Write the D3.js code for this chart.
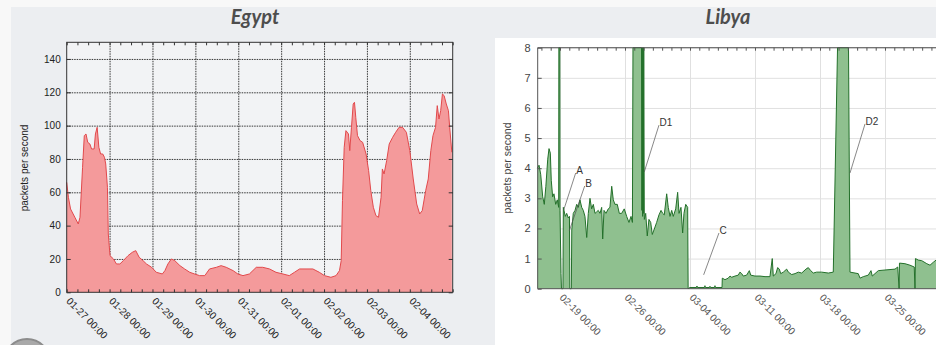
<!DOCTYPE html>
<html lang="en">
<head>
<meta charset="UTF-8">
<title>Egypt / Libya</title>
<style>
  html, body { margin: 0; padding: 0; background: #f8f8f8; }
  svg { display: block; }
</style>
</head>
<body>
<div id="chart"></div>
<script src="https://cdn.jsdelivr.net/npm/d3@7"></script>
<script>
// Egypt: days after 01-27 00:00, packets per second
const egyptDay = [0, 0.04, 0.09, 0.19, 0.27, 0.31, 0.37, 0.41, 0.45, 0.49, 0.54, 0.58, 0.64, 0.67, 0.71,
  0.75, 0.79, 0.84, 0.88, 0.91, 0.95, 0.97, 1.01, 1.09, 1.16, 1.24, 1.32, 1.43, 1.53, 1.61, 1.69, 1.78,
  1.86, 1.98, 2.09, 2.23, 2.29, 2.36, 2.44, 2.52, 2.64, 2.75, 2.87, 2.98, 3.10, 3.22, 3.33, 3.49, 3.60,
  3.72, 3.88, 3.99, 4.11, 4.26, 4.42, 4.57, 4.73, 4.88, 5.04, 5.19, 5.31, 5.43, 5.58, 5.74, 5.89, 6.01,
  6.16, 6.28, 6.36, 6.40, 6.43, 6.47, 6.51, 6.57, 6.60, 6.64, 6.68, 6.71, 6.74, 6.78, 6.84, 6.90, 6.98,
  7.04, 7.09, 7.15, 7.21, 7.27, 7.33, 7.36, 7.40, 7.46, 7.52, 7.60, 7.67, 7.75, 7.83, 7.92, 8.00, 8.08,
  8.16, 8.23, 8.29, 8.37, 8.43, 8.49, 8.54, 8.60, 8.64, 8.68, 8.72, 8.76, 8.80, 8.85, 8.90, 8.93, 8.98];
const egyptRate = [66, 57, 50, 45, 41, 45, 75, 94, 95, 90, 89, 86, 86, 95, 99,
  87, 83, 83, 81, 77, 63, 35, 22, 20, 17, 17, 19, 22, 24, 25, 21, 19,
  17, 15, 12, 11, 13, 17, 20, 19, 16, 14, 12, 11, 10, 10, 14, 15, 16,
  15, 13, 11, 10, 11, 15, 15, 14, 12, 11, 10, 12, 14, 14, 14, 12, 10,
  9, 10, 13, 19, 55, 87, 97, 95, 85, 99, 113, 114, 105, 94, 91, 90, 83,
  73, 61, 51, 46, 45, 57, 74, 71, 79, 89, 93, 96, 99, 99, 96, 85, 68,
  53, 47, 49, 61, 68, 85, 94, 99, 112, 104, 109, 119, 118, 113, 109, 99, 84];
const egyptTicks = ["01-27 00:00", "01-28 00:00", "01-29 00:00", "01-30 00:00", "01-31 00:00",
  "02-01 00:00", "02-02 00:00", "02-03 00:00", "02-04 00:00"];
const egyptYTicks = [0, 20, 40, 60, 80, 100, 120, 140];

// Libya: days after 02-19 00:00, packets per second
const libyaDay = [-2.44, -2.26, -2.08, -1.86, -1.69, -1.52, -1.32, -1.18, -1.04, -0.94, -0.79, -0.65,
  -0.46, -0.29, -0.14, -0.12, -0.02, 0.00, 0.11, 0.16, 0.32, 0.36, 0.57, 0.72, 0.89, 1.02, 1.06, 1.22,
  1.27, 1.43, 1.62, 1.80, 1.97, 2.15, 2.34, 2.51, 2.69, 2.88, 3.05, 3.23, 3.41, 3.59, 3.77, 3.95, 4.12,
  4.31, 4.49, 4.60, 4.74, 4.95, 5.20, 5.38, 5.57, 5.74, 5.92, 6.17, 6.39, 6.64, 6.92, 7.18, 7.43, 7.65,
  7.80, 7.86, 8.78, 8.82, 8.86, 8.90, 8.94, 8.98, 9.02, 9.08, 9.23, 9.40, 9.58, 9.77, 9.94, 10.12, 10.41,
  10.66, 10.88, 11.06, 11.23, 11.49, 11.66, 11.85, 12.03, 12.20, 12.46, 12.67, 12.82, 13.03, 13.21, 13.35,
  13.54, 13.75, 13.80, 14.00, 14.70, 14.75, 14.80, 15.56, 15.61, 15.66, 16.10, 16.15, 16.20, 16.64, 16.69,
  16.74, 17.45, 17.48, 17.77, 18.12, 18.31, 18.49, 18.85, 19.20, 19.38, 19.57, 19.74, 20.10, 20.39, 20.54,
  21.00, 21.54, 22.08, 22.61, 22.86, 22.97, 23.26, 23.44, 23.62, 23.77, 24.05, 24.41, 24.59, 24.95, 25.31,
  25.66, 26.03, 26.49, 26.74, 27.00, 27.28, 27.64, 28.18, 28.90, 29.43, 29.89, 31.07, 31.23, 31.77, 32.12,
  32.31, 32.66, 33.20, 33.49, 33.63, 34.28, 35.00, 36.08, 36.37, 36.52, 36.56, 37.15, 37.69, 38.15, 38.23,
  38.28, 38.59, 38.96, 39.50, 39.85, 40.21, 40.50, 41.00];
const libyaRate = [4.0, 4.1, 3.8, 3.05, 2.8, 3.4, 4.3, 4.65, 4.5, 3.6, 3.05, 3.15,
  2.8, 2.95, 2.7, 8, 8, 2.6, 0.5, 0, 0, 2.7, 2.4, 2.5, 2.35, 2.4, 0, 0,
  1.95, 2.5, 2.6, 2.8, 2.7, 2.95, 2.7, 2.6, 2.4, 1.7, 2.5, 3.0, 2.65, 2.8, 2.5, 2.55, 2.6,
  2.5, 2.7, 1.65, 2.6, 2.5, 2.65, 2.7, 3.4, 2.95, 2.8, 2.8, 2.5, 2.5, 2.65, 2.4, 2.2, 2.4,
  2.2, 8, 8, 2.6, 8, 2.4, 8, 2.5, 8, 2.3, 2.5, 1.75, 2.3, 2.2, 1.8, 1.95, 2.2,
  2.45, 2.6, 2.5, 2.45, 3.15, 2.7, 2.4, 2.6, 2.4, 2.65, 3.2, 2.5, 2.7, 1.85, 2.5,
  2.8, 2.7, 0, 0.04, 0.04, 0.09, 0.04, 0.04, 0.1, 0.04, 0.04, 0.08, 0.04, 0.04, 0.1,
  0.04, 0.04, 0.35, 0.3, 0.35, 0.42, 0.38, 0.42, 0.45, 0.55, 0.5, 0.42, 0.45, 0.6, 0.45,
  0.42, 0.42, 0.4, 0.4, 1.0, 0.42, 0.5, 0.7, 0.65, 0.5, 0.55, 0.65, 0.55, 0.47, 0.5,
  0.55, 0.52, 0.65, 0.7, 0.6, 0.52, 0.55, 0.55, 0.52, 0.55, 8, 8, 0.55, 0.52, 0.5,
  0.35, 0.4, 0.45, 0.6, 0.42, 0.6, 0.62, 0.65, 0.72, 0, 0.85, 0.83, 0.78, 0.72, 0,
  1.0, 0.95, 0.93, 0.83, 0.78, 0.88, 0.95, 0.9];
const libyaTickDay = [0, 7, 14, 21, 28, 35];
const libyaTicks = ["02-19 00:00", "02-26 00:00", "03-04 00:00", "03-11 00:00", "03-18 00:00", "03-25 00:00"];
const libyaYTicks = [0, 1, 2, 3, 4, 5, 6, 7, 8];
// label anchor (day, value) and arrow tip (day, value)
const libyaNotes = [
  { label: "A",  day: 1.69,  value: 3.84, tipDay: 0.40,  tipValue: 2.61 },
  { label: "B",  day: 2.66,  value: 3.41, tipDay: 1.00,  tipValue: 1.92 },
  { label: "D1", day: 10.66, value: 5.43, tipDay: 9.08,  tipValue: 3.88 },
  { label: "C",  day: 17.12, value: 1.85, tipDay: 15.47, tipValue: 0.46 },
  { label: "D2", day: 32.85, value: 5.47, tipDay: 31.23, tipValue: 3.84 }
];

const W = 936, H = 345;
const font = "'Liberation Sans', Arial, sans-serif";

const svg = d3.select("#chart").append("svg")
    .attr("width", W)
    .attr("height", H)
    .style("font-family", font);

// slide background
svg.append("rect").attr("x", 11).attr("y", 7).attr("width", W - 11).attr("height", H - 7)
    .attr("fill", "#eceef1");
svg.append("circle").attr("cx", 27).attr("cy", 362).attr("r", 23)
    .attr("fill", "#a9a9a9").attr("stroke", "#8c8c8c").attr("stroke-width", 2);

// ---------- Egypt ----------
const xE = d3.scaleLinear().domain([0, 9]).range([66.7, 452.7]);
const yE = d3.scaleLinear().domain([0, 150]).range([292.3, 42.3]);
const eW = xE.range()[1] - xE.range()[0], eH = yE.range()[0] - yE.range()[1];

svg.append("text")
    .attr("x", 255).attr("y", 24)
    .attr("text-anchor", "middle")
    .style("font-family", "Lato, 'Open Sans', sans-serif")
    .style("font-weight", "bold").style("font-style", "italic")
    .style("font-size", "20px")
    .attr("fill", "#4d4d4d")
    .text("Egypt");

svg.append("rect").attr("x", xE.range()[0]).attr("y", yE.range()[1])
    .attr("width", eW).attr("height", eH).attr("fill", "#f2f3f5");

let eg = svg.append("g");
eg.append("g")
    .attr("transform", `translate(0,${yE.range()[0]})`)
    .call(d3.axisBottom(xE).tickValues(d3.range(1, 9)).tickSize(-eH).tickFormat(""))
    .call(g => g.select(".domain").remove())
    .selectAll("line").attr("stroke", "#222").attr("stroke-width", 0.9).attr("stroke-dasharray", "1.5,1");
eg.append("g")
    .attr("transform", `translate(${xE.range()[0]},0)`)
    .call(d3.axisLeft(yE).tickValues(egyptYTicks.slice(1)).tickSize(-eW).tickFormat(""))
    .call(g => g.select(".domain").remove())
    .selectAll("line").attr("stroke", "#222").attr("stroke-width", 0.9).attr("stroke-dasharray", "1.5,1");

const egypt = egyptDay.map((d, i) => ({ d: d, v: egyptRate[i] }));
eg.append("path")
    .datum(egypt)
    .attr("fill", "#f49a9b")
    .attr("d", d3.area().x(p => xE(p.d)).y0(yE(0)).y1(p => yE(p.v)));
eg.append("path")
    .datum(egypt)
    .attr("fill", "none")
    .attr("stroke", "#e2494c")
    .attr("stroke-width", 1)
    .attr("d", d3.line().x(p => xE(p.d)).y(p => yE(p.v)));

// minor ticks and frame
eg.append("g").attr("transform", `translate(0,${yE.range()[1]})`)
    .call(d3.axisTop(xE).tickValues(d3.range(0, 9.01, 0.25)).tickSizeInner(-3).tickSizeOuter(0).tickFormat(""))
    .call(g => g.select(".domain").remove())
    .selectAll("line").attr("stroke", "#333");
eg.append("g").attr("transform", `translate(0,${yE.range()[0]})`)
    .call(d3.axisBottom(xE).tickValues(d3.range(0, 9.01, 0.25)).tickSizeInner(-3).tickSizeOuter(0).tickFormat(""))
    .call(g => g.select(".domain").remove())
    .selectAll("line").attr("stroke", "#333");
eg.append("g").attr("transform", `translate(${xE.range()[1]},0)`)
    .call(d3.axisRight(yE).tickValues(egyptYTicks).tickSizeInner(-4).tickSizeOuter(0).tickFormat(""))
    .call(g => g.select(".domain").remove())
    .selectAll("line").attr("stroke", "#333");
eg.append("rect").attr("x", xE.range()[0]).attr("y", yE.range()[1])
    .attr("width", eW).attr("height", eH)
    .attr("fill", "none").attr("stroke", "#333").attr("stroke-width", 1);

eg.append("g").attr("transform", `translate(${xE.range()[0]},0)`)
    .call(d3.axisLeft(yE).tickValues(egyptYTicks).tickSizeInner(-4).tickSizeOuter(0).tickPadding(6))
    .call(g => g.select(".domain").remove())
    .call(g => g.selectAll("line").attr("stroke", "#333"))
    .selectAll("text")
    .style("font-family", font).style("font-size", "10px").attr("fill", "#222");

eg.append("g").attr("transform", `translate(0,${yE.range()[0]})`)
    .call(d3.axisBottom(xE).tickValues(d3.range(0, 9)).tickSize(0).tickFormat(i => egyptTicks[i]))
    .call(g => g.select(".domain").remove())
    .selectAll("text")
    .attr("x", 0).attr("y", 0).attr("dy", "0.35em")
    .attr("text-anchor", "start")
    .attr("transform", "translate(1,7) rotate(45)")
    .style("font-family", font).style("font-size", "10px").attr("fill", "#222");

svg.append("text")
    .attr("transform", "translate(28,168) rotate(-90)")
    .attr("text-anchor", "middle")
    .style("font-size", "10px").attr("fill", "#222")
    .text("packets per second");

// ---------- Libya ----------
const xL = d3.scaleLinear().domain([-2.4, 42]).range([537.7, 950]);
const yL = d3.scaleLinear().domain([0, 8]).range([288.7, 47.7]);
const lW = xL.range()[1] - xL.range()[0], lH = yL.range()[0] - yL.range()[1];

svg.append("text")
    .attr("x", 728).attr("y", 24)
    .attr("text-anchor", "middle")
    .style("font-family", "Lato, 'Open Sans', sans-serif")
    .style("font-weight", "bold").style("font-style", "italic")
    .style("font-size", "20px")
    .attr("fill", "#4d4d4d")
    .text("Libya");

svg.append("rect").attr("x", 495).attr("y", 38).attr("width", W - 495).attr("height", H - 38)
    .attr("fill", "#ffffff");

let lg = svg.append("g");
lg.append("g")
    .attr("transform", `translate(0,${yL.range()[0]})`)
    .call(d3.axisBottom(xL).tickValues(libyaTickDay).tickSize(-lH).tickFormat(""))
    .call(g => g.select(".domain").remove())
    .selectAll("line").attr("stroke", "#e0e0e0").attr("stroke-width", 1);
lg.append("g")
    .attr("transform", `translate(${xL.range()[0]},0)`)
    .call(d3.axisLeft(yL).tickValues(libyaYTicks.slice(1)).tickSize(-lW).tickFormat(""))
    .call(g => g.select(".domain").remove())
    .selectAll("line").attr("stroke", "#e0e0e0").attr("stroke-width", 1);

const libya = libyaDay.map((d, i) => ({ d: d, v: libyaRate[i] }));
lg.append("path")
    .datum(libya)
    .attr("fill", "#8fc08f")
    .attr("d", d3.area().x(p => xL(p.d)).y0(yL(0)).y1(p => yL(p.v)));
lg.append("path")
    .datum(libya)
    .attr("fill", "none")
    .attr("stroke", "#23702a")
    .attr("stroke-width", 1)
    .attr("d", d3.line().x(p => xL(p.d)).y(p => yL(p.v)));

lg.append("g").attr("transform", `translate(0,${yL.range()[1]})`)
    .call(d3.axisTop(xL).tickValues(d3.range(-2, 42, 1)).tickSizeInner(-3).tickSizeOuter(0).tickFormat(""))
    .call(g => g.select(".domain").remove())
    .selectAll("line").attr("stroke", "#555");
lg.append("path")
    .attr("fill", "none").attr("stroke", "#555").attr("stroke-width", 1)
    .attr("d", `M${xL.range()[1]},${yL.range()[1]}H${xL.range()[0]}V${yL.range()[0]}H${xL.range()[1]}`);

lg.append("g").attr("transform", `translate(${xL.range()[0]},0)`)
    .call(d3.axisLeft(yL).tickValues(libyaYTicks).tickSizeInner(-4).tickSizeOuter(0).tickPadding(7))
    .call(g => g.select(".domain").remove())
    .call(g => g.selectAll("line").attr("stroke", "#555"))
    .selectAll("text")
    .style("font-family", font).style("font-size", "11px").attr("fill", "#444");

lg.append("g").attr("transform", `translate(0,${yL.range()[0]})`)
    .call(d3.axisBottom(xL).tickValues(libyaTickDay).tickSize(0).tickFormat((d, i) => libyaTicks[i]))
    .call(g => g.select(".domain").remove())
    .selectAll("text")
    .attr("x", 0).attr("y", 0).attr("dy", "0.35em")
    .attr("text-anchor", "start")
    .attr("transform", "translate(1,7) rotate(45)")
    .style("font-family", font).style("font-size", "10px").attr("fill", "#555");

svg.append("text")
    .attr("transform", "translate(511,168) rotate(-90)")
    .attr("text-anchor", "middle")
    .style("font-size", "10.5px").attr("fill", "#444")
    .text("packets per second");

// annotations
const notes = lg.append("g").selectAll("g").data(libyaNotes).join("g");
notes.append("line")
    .attr("x1", d => xL(d.day)).attr("y1", d => yL(d.value))
    .attr("x2", d => xL(d.tipDay)).attr("y2", d => yL(d.tipValue))
    .attr("stroke", "#555").attr("stroke-width", 0.7);
notes.append("text")
    .attr("x", d => xL(d.day) + 0.5).attr("y", d => yL(d.value) + 1)
    .style("font-size", "10px").attr("fill", "#333")
    .text(d => d.label);
</script>
</body>
</html>
